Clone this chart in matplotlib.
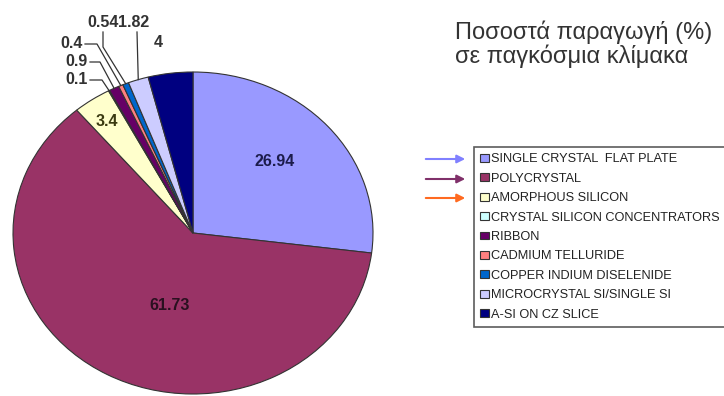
import numpy as np
import matplotlib.pyplot as plt

plt.rcParams['font.family'] = ['Liberation Sans', 'DejaVu Sans']

# data
categories = [
    'SINGLE CRYSTAL  FLAT PLATE',
    'POLYCRYSTAL',
    'AMORPHOUS SILICON',
    'CRYSTAL SILICON CONCENTRATORS',
    'RIBBON',
    'CADMIUM TELLURIDE',
    'COPPER INDIUM DISELENIDE',
    'MICROCRYSTAL SI/SINGLE SI',
    'A-SI ON CZ SLICE',
]
values = [26.94, 61.73, 3.4, 0.1, 0.9, 0.4, 0.54, 1.82, 4]
value_labels = ['26.94', '61.73', '3.4', '0.1', '0.9', '0.4', '0.54', '1.82', '4']
colors = ['#9999FF', '#993366', '#FFFFCC', '#CCFFFF', '#660066',
          '#FF8080', '#0066CC', '#CCCCFF', '#000080']

W, H = 724, 396
CX, CY, RX, RY = 193, 233, 180, 161   # pie centre / radii in pixels


def px(x, y):
    """pixel position (from top-left) -> data coords of the pie axes"""
    return ((x - CX) / RX, (CY - y) / RY)


fig = plt.figure(figsize=(W / 100, H / 100), dpi=100)
ax = fig.add_axes([0, 0, 1, 1])
wedges, _ = ax.pie(values, colors=colors, startangle=90, counterclock=False,
                   wedgeprops=dict(edgecolor='#333333', linewidth=0.8))
ax.set_aspect('auto')
ax.set_xlim(-CX / RX, (W - CX) / RX)
ax.set_ylim((CY - H) / RY, CY / RY)
ax.axis('off')


def edge_point(w):
    t = np.deg2rad((w.theta1 + w.theta2) / 2)
    return np.cos(t), np.sin(t)


lab_font = dict(fontsize=11.5, fontweight='bold')

# labels inside the big slices
inside = {0: ((275, 162), '#1c1c4c'), 1: ((170, 305), '#2a1020'), 2: ((107, 122), '#3a3a10')}
for i, (pos, c) in inside.items():
    ax.text(*px(*pos), value_labels[i], ha='center', va='center', color=c, **lab_font)

# small slices with leader lines: (text pos, ha, elbow)
outside = {
    3: ((88, 80), 'right', [(90, 80), (102, 80)]),
    4: ((88, 62), 'right', [(90, 62), (100, 62)]),
    5: ((83, 44), 'right', [(85, 44), (97, 44)]),
    6: ((103, 23), 'center', [(103, 32), (103, 47)]),
    7: ((134, 23), 'center', [(137, 32)]),
}
for i, (pos, ha, pts) in outside.items():
    ax.text(*px(*pos), value_labels[i], ha=ha, va='center', color='#333333', **lab_font)
    line = [px(*p) for p in pts] + [edge_point(wedges[i])]
    xs, ys = zip(*line)
    ax.plot(xs, ys, color='#333333', lw=0.9, clip_on=False)

ax.text(*px(158, 43), value_labels[8], ha='center', va='center', color='#333333', **lab_font)

# title
fig.text(455 / W, 1 - 21 / H, 'Ποσοστά παραγωγή (%)\nσε παγκόσμια κλίμακα',
         ha='left', va='top', fontsize=17, color='#333333', linespacing=1.02)

# legend
leg = fig.legend(wedges, categories, loc='upper left',
                 bbox_to_anchor=(474 / W, 1 - 147 / H), frameon=True, fancybox=False,
                 edgecolor='#333333', fontsize=9.2, handlelength=0.65, handleheight=0.55,
                 handletextpad=0.2, labelspacing=0.58, borderpad=0.5, borderaxespad=0)
leg.get_frame().set_linewidth(1.2)
for t in leg.get_texts():
    t.set_color('#222222')

# arrows pointing at the first three legend entries
arrow_rows = [159, 179, 198]
arrow_colors = ['#8080FF', '#80306A', '#FF6A20']
for y, c in zip(arrow_rows, arrow_colors):
    ax.annotate('', xy=px(468, y), xytext=px(423, y),
                arrowprops=dict(arrowstyle='-|>', color=c, lw=1.5, mutation_scale=12))

fig.savefig('out.png', dpi=100)
